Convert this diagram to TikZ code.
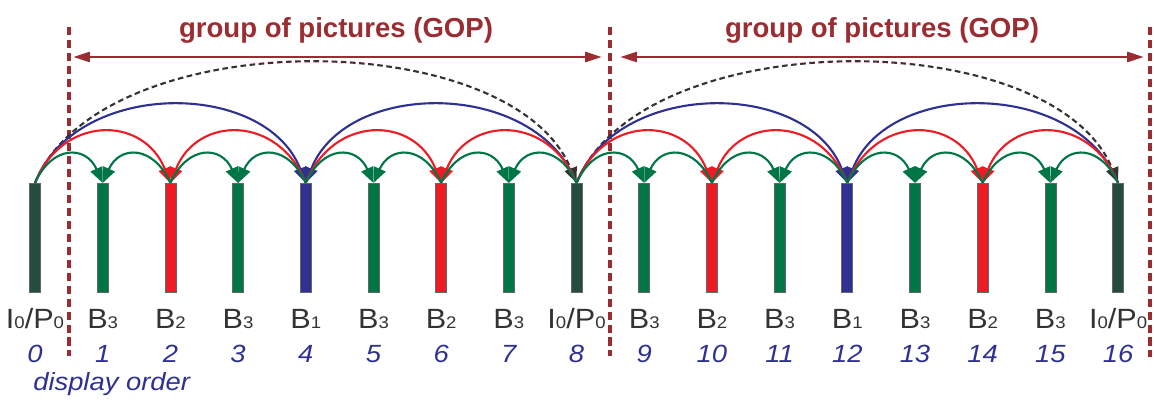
\documentclass[tikz,border=0pt]{standalone}
\usepackage{fontspec}
\setmainfont{Liberation Sans}
\newfontfamily\widesans{Liberation Sans}[FakeStretch=1.1]
\usetikzlibrary{arrows.meta,calc}

\definecolor{gopred}{RGB}{155,45,50}
\definecolor{ipgray}{RGB}{38,76,62}
\definecolor{bgreen}{RGB}{0,118,70}
\definecolor{bred}{RGB}{237,28,36}
\definecolor{bblue}{RGB}{46,49,146}
\definecolor{labgray}{RGB}{51,51,51}

\newcommand{\idx}[1]{{\fontsize{12}{12}\selectfont #1}}
\newcommand{\iplab}{I\idx{0}/P\idx{0}}

\begin{document}
\begin{tikzpicture}[
        x=0.025cm, y=-0.025cm,
        picbar/.style={rectangle, draw=gray!80!black, line width=0.5pt, inner sep=0pt, minimum width=0.275cm, minimum height=2.725cm, anchor=north},
        ftype/.style={font=\widesans\fontsize{19.8}{22}\selectfont, text=labgray, anchor=base, inner sep=0pt},
        fnum/.style={font=\widesans\fontsize{17.7}{20}\selectfont\itshape, text=bblue, anchor=base, inner sep=0pt},
        pred/.style={line width=1.5pt, -{Triangle[length=11pt, width=9pt]}},
        gop/.style={line width=2pt, gopred, {Triangle[length=12pt, width=7pt]}-{Triangle[length=12pt, width=7pt]}},
        goptext/.style={font=\fontsize{19.6}{22}\selectfont\bfseries, text=gopred, anchor=base, inner sep=0pt},
        gopline/.style={line width=2.8pt, gopred, dash pattern=on 5.7pt off 3.5pt}
    ]
    \useasboundingbox (0,0) rectangle (1154,401);

    % GOP borders
    \coordinate (b1t) at (69,27);   \coordinate (b1b) at (69,356);
    \coordinate (b2t) at (610,27);  \coordinate (b2b) at (610,356);
    \coordinate (b3t) at (1150,27); \coordinate (b3b) at (1150,357);
    \draw[gopline] (b1t) -- (b1b);
    \draw[gopline] (b2t) -- (b2b);
    \draw[gopline] (b3t) -- (b3b);

    % GOP arrows
    \coordinate (g1l) at (73,57);  \coordinate (g1r) at (602,57);
    \coordinate (g2l) at (620,57); \coordinate (g2r) at (1144,57);
    \draw[gop] (g1l) -- (g1r);
    \draw[gop] (g2l) -- (g2r);
    \node[goptext] (gop1) at (336,37) {group of pictures (GOP)};
    \node[goptext] (gop2) at (882,37) {group of pictures (GOP)};

    % Frames
    \foreach \i/\lab/\col in {0/\iplab/ipgray, 1/B\idx{3}/bgreen, 2/B\idx{2}/bred, 3/B\idx{3}/bgreen,
            4/B\idx{1}/bblue, 5/B\idx{3}/bgreen, 6/B\idx{2}/bred, 7/B\idx{3}/bgreen, 8/\iplab/ipgray,
            9/B\idx{3}/bgreen, 10/B\idx{2}/bred, 11/B\idx{3}/bgreen, 12/B\idx{1}/bblue,
            13/B\idx{3}/bgreen, 14/B\idx{2}/bred, 15/B\idx{3}/bgreen, 16/\iplab/ipgray} {
        \node[picbar, fill=\col] (f\i) at ({35+67.69*\i},183) {};
        \node[ftype] (t\i) at ({35+67.69*\i},328) {\lab};
        \node[fnum] (n\i) at ({35+67.69*\i},362) {\i};
    }
    \node[fnum, anchor=base west] (order) at (33,390) {display order};

    % Prediction arcs
    \foreach \a/\b in {0/8, 8/16}
        \draw[pred, labgray, dash pattern=on 4pt off 2.5pt] (f\a.north) .. controls ($(f\a.north)!0.12!(f\b.north)+(0,-160)$) and ($(f\a.north)!0.88!(f\b.north)+(0,-160)$) .. (f\b.north);
    \foreach \a/\b in {0/4, 8/4, 8/12, 16/12}
        \draw[pred, bblue] (f\a.north) .. controls ($(f\a.north)!0.15!(f\b.north)+(0,-104)$) and ($(f\a.north)!0.85!(f\b.north)+(0,-104)$) .. (f\b.north);
    \foreach \a/\b in {0/2, 4/2, 4/6, 8/6, 8/10, 12/10, 12/14, 16/14}
        \draw[pred, bred] (f\a.north) .. controls ($(f\a.north)!0.2!(f\b.north)+(0,-68)$) and ($(f\a.north)!0.8!(f\b.north)+(0,-68)$) .. (f\b.north);
    \foreach \a/\b in {0/1, 2/1, 2/3, 4/3, 4/5, 6/5, 6/7, 8/7, 8/9, 10/9, 10/11, 12/11, 12/13, 14/13, 14/15, 16/15}
        \draw[pred, bgreen] (f\a.north) .. controls ($(f\a.north)!0.25!(f\b.north)+(0,-38)$) and ($(f\a.north)!0.75!(f\b.north)+(0,-38)$) .. (f\b.north);

\end{tikzpicture}
\end{document}
